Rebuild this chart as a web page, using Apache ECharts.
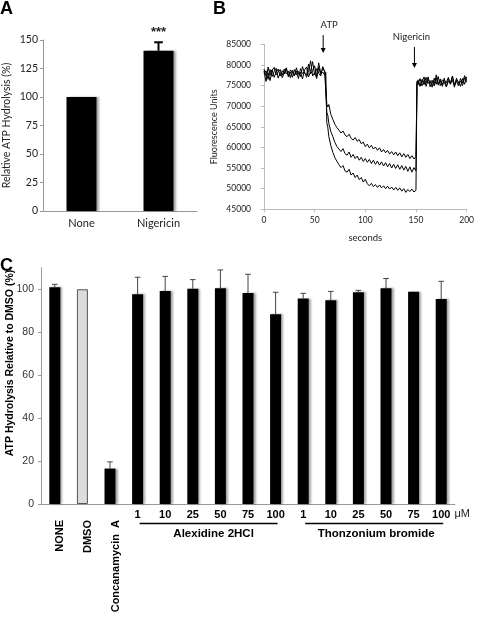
<!DOCTYPE html>
<html><head><meta charset="utf-8">
<script src="https://cdn.jsdelivr.net/npm/echarts@6/dist/echarts.min.js"></script>
<style>html,body{margin:0;padding:0;background:#fff}#c{width:477px;height:620px}</style>
</head><body><div id="c"></div>
<script>
// ---------- Panel A ----------
const aCategories = ['None', 'Nigericin'];
const aValues = [100, 140.6];
const aErrors = [0, 7.4];
const aSignif = ['', '***'];

// ---------- Panel B ----------
const bTime = [0,2,4,6,8,10,12,14,16,18,20,22,24,26,28,30,32,34,36,38,40,42,44,46,48,50,52,54,56,58,60,
  61,62,63,
  64,66,68,70,72,74,76,78,80,82,84,86,88,90,92,94,96,98,100,102,104,106,108,110,112,114,116,118,120,122,124,126,128,130,132,134,136,138,140,142,144,146,148,150,
  151,
  152,154,156,158,160,162,164,166,168,170,172,174,176,178,180,182,184,186,188,190,192,194,196,198,200];
const bTrace1 = [78500,76000,79500,77500,78800,77000,78200,79000,77300,78600,77800,79200,77400,78300,77000,78900,77600,78400,77200,79600,78000,77500,80200,77800,78600,79800,77200,80500,78000,79200,78500,
  78800,70500,69800,
  70400,68000,66800,65600,64800,64200,63500,64000,63000,62600,63200,62200,61800,62400,61500,61900,60900,61300,60200,60800,59900,60500,59600,60100,59300,59900,58900,59500,58700,59300,58400,59000,58200,58900,58000,58700,57700,58500,57600,58300,57300,58000,57200,57800,
  75500,
  76000,74800,76500,75200,77000,75500,76200,74600,76800,75300,77200,75000,76400,75800,74700,76600,75400,77300,75100,76000,74900,76700,75600,77400,76200];
const bTrace2 = [77800,78600,76500,78900,77200,78400,79200,76800,78100,77500,79000,77800,78500,76900,78700,77300,79300,77700,78200,76600,78800,79500,77100,78400,80800,77600,79100,78000,77300,79600,78200,
  78000,68500,67800,
  65800,63800,62600,61200,60200,59600,59000,59700,58500,58100,58900,57600,58300,57300,57900,56900,57600,56600,57300,56400,57100,56100,56900,55900,56700,55700,56500,55500,56300,55300,56100,55000,55900,54900,55800,54700,55600,54500,55400,54200,55300,54000,55100,54300,
  76000,
  75200,76700,74900,76300,75600,77100,74700,76000,75400,76900,75100,76600,74800,76200,75700,77000,75300,76400,74600,76800,75500,76100,75000,76900,75800];
const bTrace3 = [79000,77300,78100,76200,78700,79400,77600,78300,78900,76900,78000,79300,77100,78800,78200,77400,78500,76700,79100,77900,78300,77000,78600,81000,77300,78100,76700,79400,77700,78300,77500,
  78200,66000,64800,
  62600,60400,58800,57500,56600,55800,55100,55600,54300,54000,54700,53300,53800,52700,53300,52200,52700,51600,52300,51200,50700,51300,50500,51000,50300,50900,50200,50700,50000,50600,49900,50400,49700,50300,49600,50200,49400,50000,49100,49800,49300,49900,49200,49600,
  75200,
  76400,75000,75900,77100,74800,76500,75700,76300,74900,77600,75500,76100,75200,76800,74700,76000,75600,77200,75000,76400,75900,74800,76700,75300,77100];
const bAnnotations = [
  {text: 'ATP', x: 58.4, yTop: 87250, yTip: 82900},
  {text: 'Nigericin', x: 148.5, yTop: 84350, yTip: 79250}
];

// ---------- Panel C ----------
const cCategories = ['NONE','DMSO','Concanamycin  A','1','10','25','50','75','100','1','10','25','50','75','100'];
const cValues = [101, 100, 16.5, 97.7, 99.2, 100.2, 100.5, 98.3, 88.4, 95.7, 94.9, 98.6, 100.5, 98.8, 95.5];
const cErrors = [1.3, 0, 3.1, 7.9, 6.8, 4.3, 8.5, 8.7, 10.2, 2.4, 4.1, 0.9, 4.5, 0, 8.2];
const cGroups = [
  {name: 'Alexidine 2HCl', from: 3, to: 8},
  {name: 'Thonzonium bromide', from: 9, to: 14}
];
const cUnit = 'μM';

// ---------- build ----------
const fontA = 'Lato, "Open Sans", sans-serif';
const fontC = '"Liberation Sans", Arial, sans-serif';
const shadow = {shadowColor: 'rgba(0,0,0,0.35)', shadowBlur: 2, shadowOffsetX: 2, shadowOffsetY: 0};

function errRender(capHalf, color, width) {
  return function (params, api) {
    const x = api.value(0), v = api.value(1), e = api.value(2);
    if (!e) return null;
    const p0 = api.coord([x, v]);
    const p1 = api.coord([x, v + e]);
    return {type: 'group', children: [
      {type: 'line', shape: {x1: p0[0], y1: p0[1], x2: p1[0], y2: p1[1]}, style: {stroke: color, lineWidth: width}},
      {type: 'line', shape: {x1: p1[0] - capHalf, y1: p1[1], x2: p1[0] + capHalf, y2: p1[1]}, style: {stroke: color, lineWidth: width}}
    ]};
  };
}

const lineSeries = [bTrace1, bTrace2, bTrace3].map(tr => ({
  type: 'line', xAxisIndex: 1, yAxisIndex: 1, showSymbol: false, symbol: 'none',
  data: bTime.map((t, i) => [t, tr[i]]),
  lineStyle: {color: '#000', width: 1}, itemStyle: {color: '#000'}
}));

const option = {
  animation: false,
  grid: [
    {left: 42, width: 155, top: 40, bottom: 409},
    {left: 264, right: 10, top: 44.3, bottom: 410.7},
    {left: 41, right: 22, top: 267.8, bottom: 116},
    {left: 46.5, right: 16.5, top: 267.8, bottom: 116}
  ],
  xAxis: [
    {type: 'category', gridIndex: 0, data: aCategories,
     axisLine: {lineStyle: {color: '#999'}}, axisTick: {show: false},
     axisLabel: {color: '#222', fontFamily: fontA, fontSize: 11, margin: 7}},
    {type: 'value', gridIndex: 1, min: 0, max: 200, interval: 50, splitLine: {show: false},
     axisLine: {show: true, lineStyle: {color: '#bbb'}}, axisTick: {show: true, length: 3, lineStyle: {color: '#bbb'}},
     axisLabel: {color: '#222', fontFamily: fontA, fontSize: 8.5, margin: 6},
     name: 'seconds', nameLocation: 'middle', nameGap: 24,
     nameTextStyle: {color: '#222', fontFamily: fontA, fontSize: 9.5}},
    {type: 'category', gridIndex: 2, data: cCategories,
     axisLine: {lineStyle: {color: '#999'}}, axisTick: {show: false},
     axisLabel: {interval: 0, color: '#000', fontFamily: fontC, fontWeight: 'bold', fontSize: 11, margin: 5,
       formatter: (v, i) => i < 3 ? '' : v}},
    {type: 'category', gridIndex: 3, data: cCategories,
     axisLine: {show: false}, axisTick: {show: false},
     axisLabel: {interval: 0, rotate: 90, color: '#000', fontFamily: fontC, fontWeight: 'bold', fontSize: 11, margin: 16,
       formatter: (v, i) => i < 3 ? v : ''}}
  ],
  yAxis: [
    {type: 'value', gridIndex: 0, min: 0, max: 150, interval: 25, splitLine: {show: false},
     axisLine: {show: true, lineStyle: {color: '#999'}}, axisTick: {show: true, length: 3, lineStyle: {color: '#999'}},
     axisLabel: {color: '#222', fontFamily: fontA, fontSize: 10.5, margin: 5},
     name: 'Relative ATP Hydrolysis (%)', nameLocation: 'middle', nameGap: 31,
     nameTextStyle: {color: '#222', fontFamily: fontA, fontSize: 10.5}},
    {type: 'value', gridIndex: 1, min: 45000, max: 85000, interval: 5000, splitLine: {show: false},
     axisLine: {show: true, lineStyle: {color: '#bbb'}}, axisTick: {show: true, length: 3, lineStyle: {color: '#bbb'}},
     axisLabel: {color: '#222', fontFamily: fontA, fontSize: 8.5, margin: 13, formatter: v => String(v)},
     name: 'Fluorescence Units', nameLocation: 'middle', nameGap: 45,
     nameTextStyle: {color: '#222', fontFamily: fontA, fontSize: 9}},
    {type: 'value', gridIndex: 2, min: 0, max: 110, interval: 20, splitLine: {show: false},
     axisLine: {show: true, lineStyle: {color: '#999'}}, axisTick: {show: true, length: 3, lineStyle: {color: '#999'}},
     axisLabel: {color: '#333', fontFamily: fontC, fontSize: 10.5, margin: 7, showMaxLabel: false}},
    {type: 'value', gridIndex: 3, min: 0, max: 110, show: false}
  ],
  series: [
    {type: 'bar', xAxisIndex: 0, yAxisIndex: 0, data: aValues, barWidth: 30,
     itemStyle: Object.assign({color: '#000'}, shadow),
     label: {show: true, position: 'top', distance: 12, formatter: p => aSignif[p.dataIndex],
       color: '#222', fontFamily: fontC, fontSize: 13, fontWeight: 'bold'}},
    {type: 'custom', xAxisIndex: 0, yAxisIndex: 0, renderItem: errRender(4.3, '#000', 2),
     data: aValues.map((v, i) => [i, v, aErrors[i]]), encode: {x: 0, y: 1}, z: 5},
    ...lineSeries,
    {type: 'bar', xAxisIndex: 2, yAxisIndex: 2, barWidth: 11,
     data: cValues.map((v, i) => i === 1
       ? {value: v, itemStyle: {color: '#dcdcdc', borderColor: '#555', borderWidth: 1, shadowBlur: 0, shadowOffsetX: 0}}
       : v),
     itemStyle: Object.assign({color: '#000'}, shadow)},
    {type: 'custom', xAxisIndex: 2, yAxisIndex: 2, renderItem: errRender(2.8, '#444', 1),
     data: cValues.map((v, i) => [i, v, cErrors[i]]), encode: {x: 0, y: 1}, z: 5}
  ]
};

const chart = echarts.init(document.getElementById('c'), null, {renderer: 'canvas'});
chart.setOption(option);

const g = [];
const letter = (t, x, y) => ({type: 'text', x, y, style: {text: t, fontFamily: fontC, fontWeight: 'bold', fontSize: 18, fill: '#000'}});
g.push(letter('A', 0, 0), letter('B', 213, 0), letter('C', 0, 257));

bAnnotations.forEach((a, k) => {
  const top = chart.convertToPixel({gridIndex: 1}, [a.x, a.yTop]);
  const tip = chart.convertToPixel({gridIndex: 1}, [a.x, a.yTip]);
  g.push({type: 'line', shape: {x1: top[0], y1: top[1], x2: tip[0], y2: tip[1] - 4}, style: {stroke: '#000', lineWidth: 1}});
  g.push({type: 'polygon', shape: {points: [[tip[0] - 2.5, tip[1] - 5], [tip[0] + 2.5, tip[1] - 5], [tip[0], tip[1]]]}, style: {fill: '#000'}});
  g.push({type: 'text', x: top[0] + (k === 0 ? 6 : -3), y: top[1] - 10,
    style: {text: a.text, fontFamily: fontA, fontSize: 9.5, fill: '#222', align: 'center', verticalAlign: 'middle'}});
});

const base = chart.convertToPixel({gridIndex: 2}, [0, 0]);
cGroups.forEach((grp, k) => {
  const p1 = chart.convertToPixel({gridIndex: 2}, [grp.from, 0]);
  const p2 = chart.convertToPixel({gridIndex: 2}, [grp.to, 0]);
  const ly = base[1] + 19.5;
  g.push({type: 'line', shape: {x1: p1[0] + 2, y1: ly, x2: p2[0] + 2, y2: ly}, style: {stroke: '#000', lineWidth: 1.5}});
  g.push({type: 'text', x: (p1[0] + p2[0]) / 2 + (k === 0 ? 7 : 4), y: ly + 10.5,
    style: {text: grp.name, fontFamily: fontC, fontWeight: 'bold', fontSize: 11.5, fill: '#000', align: 'center', verticalAlign: 'middle'}});
});
const pLast = chart.convertToPixel({gridIndex: 2}, [cCategories.length - 1, 0]);
g.push({type: 'text', x: pLast[0] + 21, y: base[1] + 9.5,
  style: {text: cUnit, fontFamily: fontC, fontSize: 11, fill: '#222', align: 'center', verticalAlign: 'middle'}});

// Panel C y title
g.push({type: 'text', x: 10, y: 363, rotation: Math.PI / 2,
  style: {text: 'ATP Hydrolysis Relative to DMSO (%)', fontFamily: fontC, fontWeight: 'bold', fontSize: 10.5, fill: '#000', align: 'center', verticalAlign: 'middle'}});

chart.setOption({graphic: g});
</script>
</body></html>
